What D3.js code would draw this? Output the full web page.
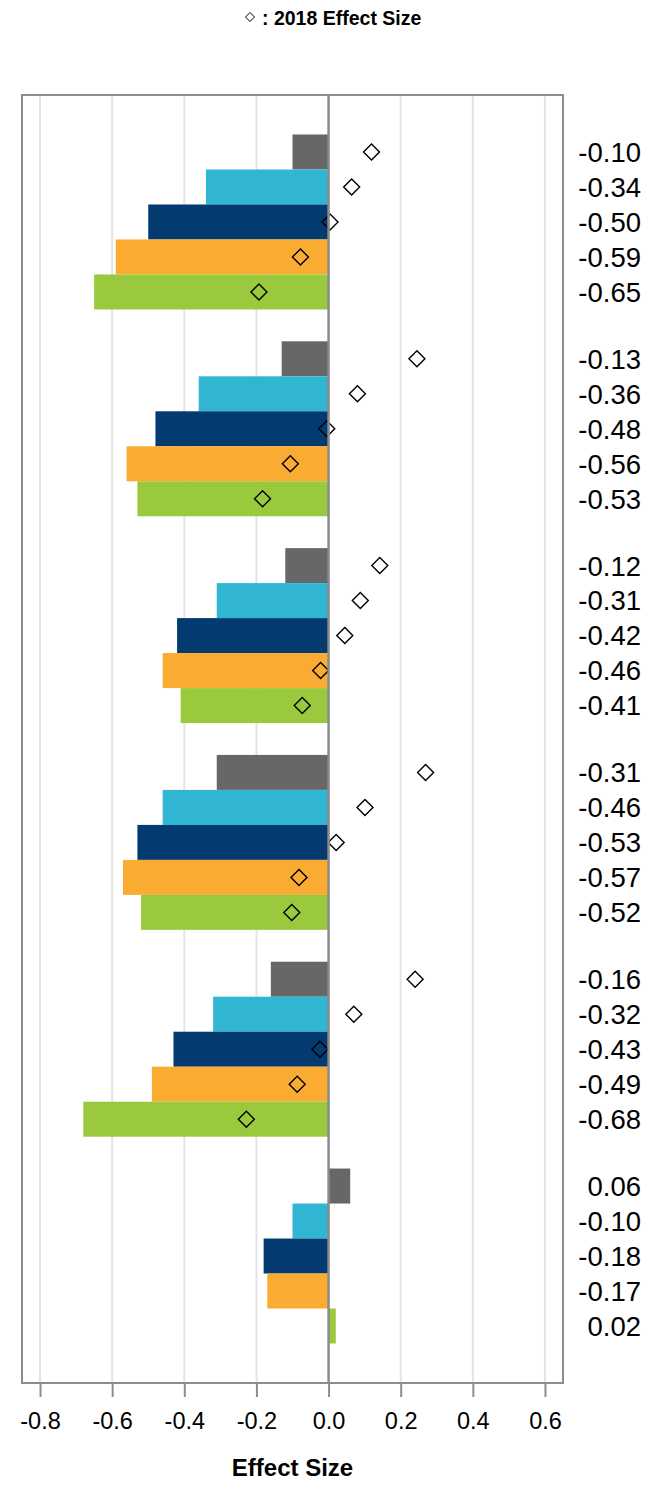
<!DOCTYPE html>
<html><head><meta charset="utf-8">
<script src="https://cdn.jsdelivr.net/npm/d3@7"></script>
<style>
body{margin:0;background:#fff}
svg{display:block}
text{font-family:"Liberation Sans",Arial,Helvetica,sans-serif;fill:#000}
</style>
</head><body>
<svg id="chart" width="649" height="1485"></svg>
<script>
// ---- data ----
const categories = ["Group 1", "Group 2", "Group 3", "Group 4", "Group 5", "Group 6"];
const series = ["Series 1", "Series 2", "Series 3", "Series 4", "Series 5"];
const seriesColors = ["#676767", "#30B5D3", "#033B70", "#FAAB31", "#9BC93E"];
const group1Values = [-0.10, -0.34, -0.50, -0.59, -0.65];
const group2Values = [-0.13, -0.36, -0.48, -0.56, -0.53];
const group3Values = [-0.12, -0.31, -0.42, -0.46, -0.41];
const group4Values = [-0.31, -0.46, -0.53, -0.57, -0.52];
const group5Values = [-0.16, -0.32, -0.43, -0.49, -0.68];
const group6Values = [0.06, -0.10, -0.18, -0.17, 0.02];
const barValues = [group1Values, group2Values, group3Values, group4Values, group5Values, group6Values];
const effect2018Group1 = [0.119, 0.064, 0.004, -0.078, -0.193];
const effect2018Group2 = [0.245, 0.080, -0.005, -0.106, -0.183];
const effect2018Group3 = [0.142, 0.088, 0.045, -0.022, -0.073];
const effect2018Group4 = [0.269, 0.101, 0.021, -0.082, -0.102];
const effect2018Group5 = [0.240, 0.070, -0.024, -0.087, -0.228];
const effect2018Group6 = [null, null, null, null, null];
const effect2018 = [effect2018Group1, effect2018Group2, effect2018Group3, effect2018Group4, effect2018Group5, effect2018Group6];
const xTicks = [-0.8, -0.6, -0.4, -0.2, 0.0, 0.2, 0.4, 0.6];
const xDomain = [-0.85, 0.65];
const legendLabel = ": 2018 Effect Size";
const xTitle = "Effect Size";

// ---- layout ----
const svg = d3.select("#chart");
const plot = {left: 22, right: 563, top: 95, bottom: 1383};
const fmtMinus = f => v => f(v).replace("\u2212", "-");

const x = d3.scaleLinear().domain(xDomain).range([plot.left, plot.right]);
const y = d3.scaleBand().domain(categories).range([plot.top, plot.bottom])
  .paddingInner(0.154).paddingOuter(0.191);
const yInner = d3.scaleBand().domain(series).range([0, y.bandwidth()]).padding(0);

// gridlines
svg.append("g").selectAll("line").data(xTicks.filter(t => t !== 0)).join("line")
  .attr("x1", d => x(d)).attr("x2", d => x(d))
  .attr("y1", plot.top).attr("y2", plot.bottom)
  .attr("stroke", "#e4e4e4").attr("stroke-width", 2);

// bars
const groups = svg.append("g").selectAll("g").data(categories).join("g")
  .attr("transform", d => `translate(0,${y(d)})`);
groups.selectAll("rect").data((c, i) => series.map((s, j) => ({s, j, v: barValues[i][j]}))).join("rect")
  .attr("x", d => x(Math.min(0, d.v)))
  .attr("width", d => Math.abs(x(d.v) - x(0)))
  .attr("y", d => yInner(d.s))
  .attr("height", yInner.bandwidth())
  .attr("fill", d => seriesColors[d.j]);

// zero line
svg.append("line")
  .attr("x1", x(0)).attr("x2", x(0)).attr("y1", plot.top).attr("y2", plot.bottom)
  .attr("stroke", "#8a8b8d").attr("stroke-width", 2.5);

// frame
svg.append("rect")
  .attr("x", plot.left).attr("y", plot.top)
  .attr("width", plot.right - plot.left).attr("height", plot.bottom - plot.top)
  .attr("fill", "none").attr("stroke", "#8b8d8f").attr("stroke-width", 2);

// diamonds
const diamond = r => `M0,${-r}L${r},0L0,${r}L${-r},0Z`;
groups.selectAll("path.dia").data((c, i) => series.map((s, j) => ({s, v: effect2018[i][j]})).filter(d => d.v != null))
  .join("path").attr("class", "dia")
  .attr("d", diamond(8))
  .attr("transform", d => `translate(${x(d.v)},${yInner(d.s) + yInner.bandwidth() / 2})`)
  .attr("fill", "none").attr("stroke", "#000").attr("stroke-width", 1.4);

// right value labels
const fmt2 = fmtMinus(d3.format(".2f"));
groups.selectAll("text.val").data((c, i) => series.map((s, j) => ({s, v: barValues[i][j]}))).join("text")
  .attr("class", "val")
  .attr("x", 641)
  .attr("y", d => yInner(d.s) + yInner.bandwidth() / 2)
  .attr("dy", "0.36em")
  .attr("text-anchor", "end")
  .attr("font-size", 27.5)
  .text(d => fmt2(d.v));

// x axis
const axis = d3.axisBottom(x).tickValues(xTicks).tickSize(14).tickPadding(15)
  .tickFormat(fmtMinus(d3.format(".1f")));
const gx = svg.append("g").attr("transform", `translate(0,${plot.bottom})`).call(axis);
gx.select(".domain").remove();
gx.selectAll(".tick line").attr("stroke", "#8b8d8f").attr("stroke-width", 2);
gx.selectAll(".tick text").attr("font-size", 23.5).attr("fill", "#000")
  .attr("font-family", '"Liberation Sans",Arial,sans-serif');

// x title
svg.append("text").attr("x", (plot.left + plot.right) / 2).attr("y", 1476)
  .attr("text-anchor", "middle").attr("font-size", 24).attr("font-weight", "bold")
  .text(xTitle);

// legend
svg.append("path").attr("d", diamond(4.5)).attr("transform", "translate(250,17)")
  .attr("fill", "none").attr("stroke", "#000").attr("stroke-width", 1);
svg.append("text").attr("x", 262).attr("y", 24.5).attr("font-size", 19.5)
  .attr("font-weight", "bold").text(legendLabel);
</script>
</body></html>
